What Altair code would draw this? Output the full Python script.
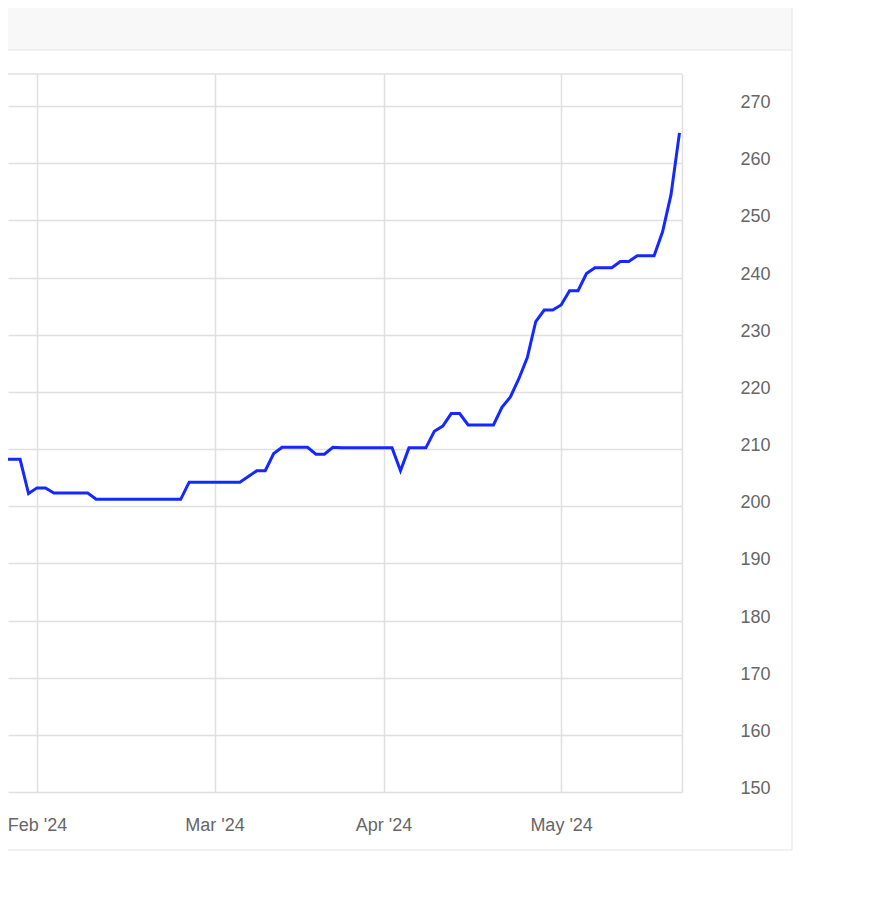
import json
import altair as alt
import pandas as pd

# trading-session index (0 = first session of Feb 2024) and price
session = list(range(-5, 77))
price = [
    208.2, 208.2, 208.2, 208.2, 202.2,            # -5 .. -1
    203.2, 203.2, 202.3, 202.3, 202.3, 202.3, 202.3,  # 0 .. 6
    201.2, 201.2, 201.2, 201.2, 201.2, 201.2, 201.2, 201.2, 201.2, 201.2, 201.2,  # 7 .. 17
    204.2, 204.2, 204.2, 204.2, 204.2, 204.2, 204.2,  # 18 .. 24
    205.2, 206.2, 206.2, 209.2, 210.3, 210.3, 210.3, 210.3,  # 25 .. 32
    209.1, 209.1, 210.3,  # 33 .. 35
    210.2, 210.2, 210.2, 210.2, 210.2, 210.2, 210.2,  # 36 .. 42
    206.2, 210.2, 210.2, 210.2,  # 43 .. 46
    213.1, 214.0, 216.2, 216.2, 214.2, 214.2, 214.2, 214.2,  # 47 .. 54
    217.3, 219.1, 222.3, 226.0, 232.3, 234.3, 234.3, 235.2,  # 55 .. 62
    237.7, 237.7, 240.7, 241.7, 241.7, 241.7, 242.8, 242.8,  # 63 .. 70
    243.8, 243.8, 243.8, 248.0, 254.5, 265.3,  # 71 .. 76
]
month_ticks = [0, 21, 41, 62]
month_labels = ["Feb '24", "Mar '24", "Apr '24", "May '24"]
y_ticks = list(range(150, 271, 10))

df = pd.DataFrame({"session": session, "price": price})
one = pd.DataFrame({"k": [0]})

W, H = 674, 718
label_lookup = json.dumps({str(t): l for t, l in zip(month_ticks, month_labels)})
label_expr = f"{label_lookup}[datum.value]"

FONT = "Helvetica, Arial, Liberation Sans, sans-serif"
GRID = "#e0e0e0"
TXT = "#666666"

header = alt.Chart(one).mark_rect(color="#f8f8f8").encode(
    x=alt.value(0), x2=alt.value(784), y=alt.value(-66), y2=alt.value(-24)
)
header_border = alt.Chart(one).mark_rule(color="#ececec", strokeWidth=1.5).encode(
    x=alt.value(0), x2=alt.value(784), y=alt.value(-24)
)
box_right = alt.Chart(one).mark_rule(color="#ececec", strokeWidth=1.5).encode(
    x=alt.value(784), y=alt.value(-66), y2=alt.value(776)
)
box_bottom = alt.Chart(one).mark_rule(color="#ececec", strokeWidth=1.5).encode(
    x=alt.value(0), x2=alt.value(784), y=alt.value(776)
)
plot_top = alt.Chart(one).mark_rule(color=GRID, strokeWidth=1.5).encode(
    x=alt.value(0), x2=alt.value(W), y=alt.value(0)
)

line = alt.Chart(df).mark_line(color="#1428ff", strokeWidth=3, clip=True).encode(
    x=alt.X(
        "session:Q",
        scale=alt.Scale(domain=[-3.43, 76.3], nice=False, zero=False),
        axis=alt.Axis(
            values=month_ticks, labelExpr=label_expr, grid=True, gridColor=GRID,
            gridWidth=1.5, domain=False, ticks=False, labelPadding=24,
            labelFontSize=18, labelColor=TXT, labelFont=FONT, labelFlush=False,
            labelOverlap=False, title=None,
        ),
    ),
    y=alt.Y(
        "price:Q",
        scale=alt.Scale(domain=[150, 275.6], nice=False, zero=False),
        axis=alt.Axis(
            orient="right", values=y_ticks, grid=True, gridColor=GRID, gridWidth=1.5,
            domain=True, domainColor=GRID, domainWidth=1.5, ticks=False,
            labelPadding=88, labelAlign="right", labelOffset=-3.5,
            labelFontSize=18, labelColor=TXT, labelFont=FONT, title=None,
        ),
    ),
)

chart = alt.layer(header, header_border, box_right, box_bottom, plot_top, line).properties(
    width=W, height=H,
    background="white",
    autosize=alt.AutoSizeParams(type="none"),
    padding={"left": 0, "top": 66, "right": 176, "bottom": 114},
).configure_view(stroke="transparent", strokeWidth=0)

chart.save("out.html", embed_options={"renderer": "svg", "actions": False})
